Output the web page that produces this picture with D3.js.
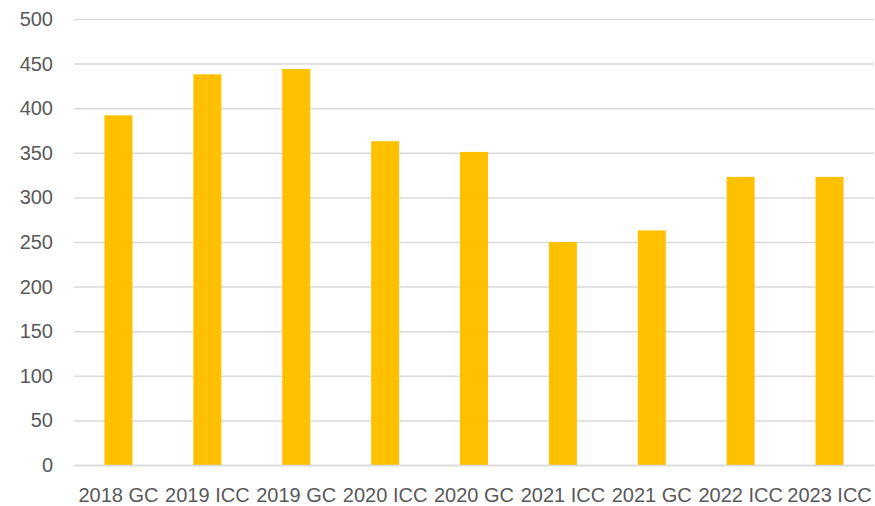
<!DOCTYPE html>
<html><head><meta charset="utf-8">
<script src="https://cdn.jsdelivr.net/npm/d3@7"></script>
<style>body{margin:0;background:#fff}svg{display:block}</style>
</head><body>
<svg id="c" width="875" height="506"></svg>
<script>
const categories = ["2018 GC","2019 ICC","2019 GC","2020 ICC","2020 GC","2021 ICC","2021 GC","2022 ICC","2023 ICC"];
const values = [392, 438, 444, 363, 351, 250, 263, 323, 323];
const yTicks = [0,50,100,150,200,250,300,350,400,450,500];

(function(){
const svg = d3.select("#c");
const mLeft = 74, mRight = 874, mTop = 19, mBottom = 465;
const x = d3.scaleBand().domain(categories).range([mLeft, mRight]).paddingInner(0.685).paddingOuter(0.3425);
const y = d3.scaleLinear().domain([0, 500]).range([mBottom, mTop]);
const font = "'Liberation Sans', Arial, sans-serif";

const yAxis = d3.axisLeft(y).tickValues(yTicks).tickSize(-(mRight - mLeft)).tickPadding(21);
const gy = svg.append("g").attr("transform", `translate(${mLeft},0)`).call(yAxis);
gy.select(".domain").remove();
gy.selectAll(".tick line").attr("stroke", "#d9d9d9").attr("stroke-width", 1.5);
gy.selectAll(".tick text").attr("fill", "#595959").style("font-family", font).style("font-size", "20px");

svg.append("g").selectAll("rect").data(values).join("rect")
  .attr("x", (d, i) => x(categories[i]))
  .attr("width", x.bandwidth())
  .attr("y", d => y(d))
  .attr("height", d => y(0) - y(d))
  .attr("fill", "#FFC000");

const xAxis = d3.axisBottom(x).tickSize(0).tickPadding(23);
const gx = svg.append("g").attr("transform", `translate(0,${mBottom})`).call(xAxis);
gx.select(".domain").attr("stroke", "#d9d9d9").attr("stroke-width", 1.5);
gx.selectAll(".tick text").attr("fill", "#595959").style("font-family", font).style("font-size", "20px");
})();
</script>
</body></html>
